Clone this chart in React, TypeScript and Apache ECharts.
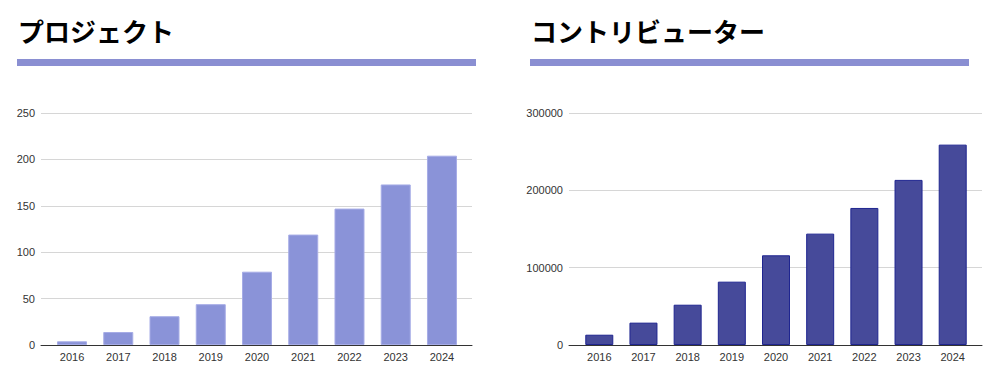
import React, { useEffect, useRef } from "react";
import * as echarts from "echarts";

const years = ["2016", "2017", "2018", "2019", "2020", "2021", "2022", "2023", "2024"];
const projectValues = [4, 14, 31, 44, 79, 119, 147, 173, 204];
const contributorValues = [13300, 28900, 52100, 81900, 116000, 144000, 177200, 213500, 259100];
const projectTitle = "プロジェクト";
const contributorTitle = "コントリビューター";

export default function App() {
  const ref = useRef<HTMLDivElement>(null);
  useEffect(() => {
    document.body.style.margin = "0";
    const chart = echarts.init(ref.current!, null, { renderer: "svg" });
    const labelStyle = { color: "#333", fontSize: 11, fontFamily: "Liberation Sans, Arial, sans-serif" };
    const plain = (v: number) => String(v);
    chart.setOption({
      animation: false,
      grid: [
        { left: 41, right: 528, top: 113, bottom: 43 },
        { left: 48.9, width: 416.2, top: 113, bottom: 43 },
        { left: 569, right: 18, top: 113, bottom: 43 },
        { left: 577.2, width: 397.6, top: 113, bottom: 43 },
      ],
      xAxis: [
        { gridIndex: 0, type: "value", min: 0, max: 1, axisLine: { show: true, onZero: false, lineStyle: { color: "#333", width: 1 } }, axisTick: { show: false }, axisLabel: { show: false }, splitLine: { show: false } },
        { gridIndex: 1, type: "category", data: years, axisLine: { show: false }, axisTick: { show: false }, axisLabel: { ...labelStyle, margin: 6 } },
        { gridIndex: 2, type: "value", min: 0, max: 1, axisLine: { show: true, onZero: false, lineStyle: { color: "#333", width: 1 } }, axisTick: { show: false }, axisLabel: { show: false }, splitLine: { show: false } },
        { gridIndex: 3, type: "category", data: years, axisLine: { show: false }, axisTick: { show: false }, axisLabel: { ...labelStyle, margin: 6 } },
      ],
      yAxis: [
        { gridIndex: 0, type: "value", min: 0, max: 250, interval: 50, axisLine: { show: false }, axisTick: { show: false }, axisLabel: { ...labelStyle, margin: 6, formatter: plain }, splitLine: { lineStyle: { color: "#d6d6d6" } } },
        { gridIndex: 1, type: "value", min: 0, max: 250, interval: 50, show: false },
        { gridIndex: 2, type: "value", min: 0, max: 300000, interval: 100000, axisLine: { show: false }, axisTick: { show: false }, axisLabel: { ...labelStyle, margin: 6, formatter: plain }, splitLine: { lineStyle: { color: "#d6d6d6" } } },
        { gridIndex: 3, type: "value", min: 0, max: 300000, interval: 100000, show: false },
      ],
      series: [
        {
          type: "bar", xAxisIndex: 1, yAxisIndex: 1, data: projectValues, barWidth: 30,
          itemStyle: { color: "#8a93d8", borderColor: "#a6ace6", borderWidth: 1 },
        },
        {
          type: "bar", xAxisIndex: 3, yAxisIndex: 3, data: contributorValues, barWidth: 28,
          itemStyle: { color: "#464a9a", borderColor: "#1f2590", borderWidth: 1 },
        },
      ],
      graphic: [
        { type: "text", left: 18, top: 17, style: { text: projectTitle, fontSize: 26, fontWeight: "bold", fill: "#000", fontFamily: "Noto Sans CJK JP, sans-serif" } },
        { type: "rect", shape: { x: 17, y: 59, width: 459, height: 7 }, style: { fill: "#8a8fd2" } },
        { type: "text", left: 531, top: 17, style: { text: contributorTitle, fontSize: 26, fontWeight: "bold", fill: "#000", fontFamily: "Noto Sans CJK JP, sans-serif" } },
        { type: "rect", shape: { x: 530, y: 59, width: 439, height: 7 }, style: { fill: "#8a8fd2" } },
      ],
    });
    return () => chart.dispose();
  }, []);
  return <div ref={ref} style={{ width: 1000, height: 388 }} />;
}
